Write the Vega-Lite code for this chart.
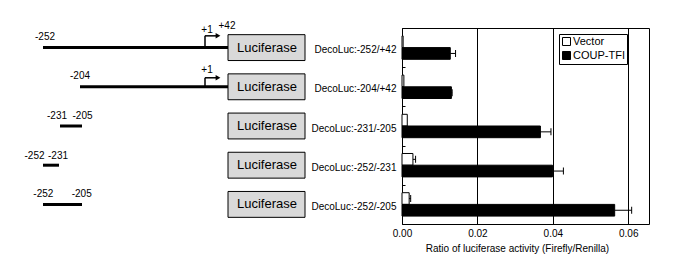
{
  "$schema": "https://vega.github.io/schema/vega-lite/v6.json",
  "background": "white",
  "padding": {"left": 0, "top": 20, "right": 5, "bottom": 5},
  "bounds": "flush",
  "spacing": 92,
  "config": {"font": "Liberation Sans"},
  "resolve": {"scale": {"x": "independent", "y": "independent"}},
  "datasets": {
    "schematic": [
      {"kind": "line", "x": 43, "x2": 228, "y": 1},
      {"kind": "line", "x": 80, "x2": 228, "y": 2},
      {"kind": "line", "x": 60, "x2": 82, "y": 3},
      {"kind": "line", "x": 43, "x2": 59, "y": 4},
      {"kind": "line", "x": 43, "x2": 82, "y": 5},
      {"kind": "stem", "x": 205, "y": 1, "y2": 0.7},
      {"kind": "stem", "x": 205, "y": 2, "y2": 1.77},
      {"kind": "arm", "x": 205, "x2": 216, "y": 0.7},
      {"kind": "arm", "x": 205, "x2": 216, "y": 1.77},
      {"kind": "head", "x": 218, "y": 0.7},
      {"kind": "head", "x": 218, "y": 1.77},
      {"kind": "box", "x": 228, "x2": 305, "y": 0.67, "y2": 1.33, "text": "Luciferase", "xc": 267, "yc": 1},
      {"kind": "box", "x": 228, "x2": 305, "y": 1.67, "y2": 2.33, "text": "Luciferase", "xc": 267, "yc": 2},
      {"kind": "box", "x": 228, "x2": 305, "y": 2.67, "y2": 3.33, "text": "Luciferase", "xc": 267, "yc": 3},
      {"kind": "box", "x": 228, "x2": 305, "y": 3.67, "y2": 4.33, "text": "Luciferase", "xc": 267, "yc": 4},
      {"kind": "box", "x": 228, "x2": 305, "y": 4.67, "y2": 5.33, "text": "Luciferase", "xc": 267, "yc": 5},
      {"kind": "label", "text": "-252", "x": 45, "y": 0.73},
      {"kind": "label", "text": "+1", "x": 207, "y": 0.55},
      {"kind": "label", "text": "+42", "x": 227, "y": 0.44},
      {"kind": "label", "text": "-204", "x": 80, "y": 1.725},
      {"kind": "label", "text": "+1", "x": 207, "y": 1.58},
      {"kind": "label", "text": "-231", "x": 57, "y": 2.745},
      {"kind": "label", "text": "-205", "x": 82.5, "y": 2.745},
      {"kind": "label", "text": "-252", "x": 34.5, "y": 3.76},
      {"kind": "label", "text": "-231", "x": 58, "y": 3.76},
      {"kind": "label", "text": "-252", "x": 43.3, "y": 4.745},
      {"kind": "label", "text": "-205", "x": 81.7, "y": 4.745}
    ],
    "bars": [
      {"construct": "DecoLuc:-252/+42", "series": "Vector", "value": 0.0003, "err": null},
      {"construct": "DecoLuc:-252/+42", "series": "COUP-TFI", "value": 0.0128, "err": 0.0142},
      {"construct": "DecoLuc:-204/+42", "series": "Vector", "value": 0.0005, "err": null},
      {"construct": "DecoLuc:-204/+42", "series": "COUP-TFI", "value": 0.0131, "err": 0.0133},
      {"construct": "DecoLuc:-231/-205", "series": "Vector", "value": 0.0014, "err": null},
      {"construct": "DecoLuc:-231/-205", "series": "COUP-TFI", "value": 0.0367, "err": 0.0395},
      {"construct": "DecoLuc:-252/-231", "series": "Vector", "value": 0.0029, "err": 0.0036},
      {"construct": "DecoLuc:-252/-231", "series": "COUP-TFI", "value": 0.0399, "err": 0.0428},
      {"construct": "DecoLuc:-252/-205", "series": "Vector", "value": 0.0019, "err": 0.0023},
      {"construct": "DecoLuc:-252/-205", "series": "COUP-TFI", "value": 0.0564, "err": 0.0609}
    ]
  },
  "hconcat": [
    {
      "width": 310,
      "height": 196,
      "view": {"stroke": null},
      "data": {"name": "schematic"},
      "layer": [
        {
          "transform": [{"filter": "datum.kind === 'line'"}],
          "mark": {"type": "rule", "strokeWidth": 3, "color": "black"},
          "encoding": {
            "x": {"field": "x", "type": "quantitative", "scale": {"domain": [0, 310], "nice": false, "zero": false}, "axis": null},
            "x2": {"field": "x2"},
            "y": {"field": "y", "type": "quantitative", "scale": {"domain": [0.5, 5.5], "nice": false, "zero": false, "reverse": true}, "axis": null}
          }
        },
        {
          "transform": [{"filter": "datum.kind === 'stem'"}],
          "mark": {"type": "rule", "strokeWidth": 1.5, "color": "black"},
          "encoding": {
            "x": {"field": "x", "type": "quantitative"},
            "y": {"field": "y", "type": "quantitative"},
            "y2": {"field": "y2"}
          }
        },
        {
          "transform": [{"filter": "datum.kind === 'arm'"}],
          "mark": {"type": "rule", "strokeWidth": 1.5, "color": "black"},
          "encoding": {
            "x": {"field": "x", "type": "quantitative"},
            "x2": {"field": "x2"},
            "y": {"field": "y", "type": "quantitative"}
          }
        },
        {
          "transform": [{"filter": "datum.kind === 'head'"}],
          "mark": {"type": "point", "shape": "triangle-right", "filled": true, "color": "black", "size": 30, "opacity": 1},
          "encoding": {
            "x": {"field": "x", "type": "quantitative"},
            "y": {"field": "y", "type": "quantitative"}
          }
        },
        {
          "transform": [{"filter": "datum.kind === 'box'"}],
          "mark": {"type": "rect", "fill": "#d9d9d9", "stroke": "black", "strokeWidth": 1},
          "encoding": {
            "x": {"field": "x", "type": "quantitative"},
            "x2": {"field": "x2"},
            "y": {"field": "y", "type": "quantitative"},
            "y2": {"field": "y2"}
          }
        },
        {
          "transform": [{"filter": "datum.kind === 'box'"}],
          "mark": {"type": "text", "fontSize": 13, "color": "black", "align": "center", "baseline": "middle", "font": "Liberation Sans"},
          "encoding": {
            "x": {"field": "xc", "type": "quantitative"},
            "y": {"field": "yc", "type": "quantitative"},
            "text": {"field": "text"}
          }
        },
        {
          "transform": [{"filter": "datum.kind === 'label'"}],
          "mark": {"type": "text", "fontSize": 10, "color": "black", "align": "center", "baseline": "middle", "font": "Liberation Sans"},
          "encoding": {
            "x": {"field": "x", "type": "quantitative"},
            "y": {"field": "y", "type": "quantitative"},
            "text": {"field": "text"}
          }
        }
      ]
    },
    {
      "width": 247,
      "height": 196,
      "view": {"stroke": "black", "strokeWidth": 1},
      "data": {"name": "bars"},
      "encoding": {
        "y": {
          "field": "construct",
          "type": "nominal",
          "sort": null,
          "scale": {"paddingInner": 0, "paddingOuter": 0},
          "axis": {
            "title": null,
            "domain": false,
            "tickBand": "extent",
            "tickSize": -3,
            "tickColor": "black",
            "labelPadding": 9,
            "labelOffset": 2,
            "labelFont": "Liberation Sans",
            "labelFontSize": 10,
            "labelColor": "black",
            "labelLimit": 200
          }
        },
        "yOffset": {"field": "series", "type": "nominal", "sort": ["Vector", "COUP-TFI"], "scale": {"paddingInner": 0, "paddingOuter": 0.675}}
      },
      "layer": [
        {
          "mark": {"type": "bar", "stroke": "black", "strokeWidth": 1},
          "encoding": {
            "x": {
              "field": "value",
              "type": "quantitative",
              "scale": {"domain": [0, 0.0655], "nice": false},
              "axis": {
                "values": [0, 0.02, 0.04, 0.06],
                "format": ".2f",
                "ticks": false,
                "domain": false,
                "grid": true,
                "gridColor": "black",
                "gridOpacity": 1,
                "labelFlush": false,
                "labelPadding": 4,
                "labelFont": "Liberation Sans",
                "labelFontSize": 10,
                "labelColor": "black",
                "title": "Ratio of luciferase activity (Firefly/Renilla)",
                "titleFont": "Liberation Sans",
                "titleFontSize": 10,
                "titleFontWeight": "normal",
                "titleColor": "black",
                "titlePadding": 5,
                "titleX": 115,
                "titleAlign": "center"
              }
            },
            "color": {
              "field": "series",
              "type": "nominal",
              "sort": ["Vector", "COUP-TFI"],
              "scale": {"domain": ["Vector", "COUP-TFI"], "range": ["white", "black"]},
              "legend": {
                "orient": "none",
                "legendX": 559,
                "legendY": 6,
                "title": null,
                "strokeColor": "black",
                "fillColor": "white",
                "padding": 2,
                "symbolType": "square",
                "symbolSize": 64,
                "symbolStrokeColor": "black",
                "symbolStrokeWidth": 1,
                "symbolOpacity": 1,
                "labelFont": "Liberation Sans",
                "labelFontSize": 11,
                "labelColor": "black",
                "labelOffset": 1,
                "rowPadding": 1
              }
            }
          }
        },
        {
          "transform": [{"filter": "datum.err != null"}],
          "mark": {"type": "rule", "color": "black", "strokeWidth": 1},
          "encoding": {
            "x": {"field": "value", "type": "quantitative"},
            "x2": {"field": "err"}
          }
        },
        {
          "transform": [{"filter": "datum.err != null"}],
          "mark": {"type": "tick", "color": "black", "thickness": 1, "size": 7, "opacity": 1},
          "encoding": {
            "x": {"field": "err", "type": "quantitative"}
          }
        }
      ]
    }
  ]
}
